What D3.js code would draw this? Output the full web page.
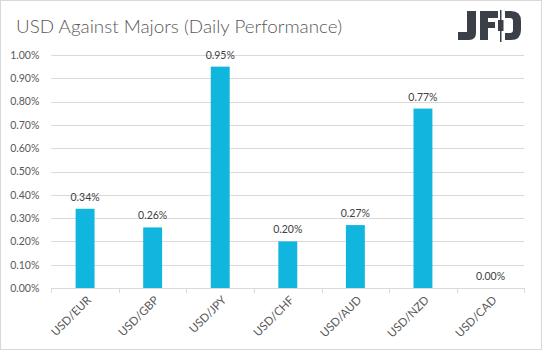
<!DOCTYPE html>
<html>
<head>
<meta charset="utf-8">
<script src="https://cdn.jsdelivr.net/npm/d3@7"></script>
<style>
  body { margin: 0; background: #fff; }
  text { font-family: Lato, "Open Sans", sans-serif; }
</style>
</head>
<body>
<div id="chart"></div>
<script>
const pairs = ["USD/EUR", "USD/GBP", "USD/JPY", "USD/CHF", "USD/AUD", "USD/NZD", "USD/CAD"];
const change = [0.34, 0.26, 0.95, 0.20, 0.27, 0.77, 0.00]; // percent
const yTicks = [0, 0.1, 0.2, 0.3, 0.4, 0.5, 0.6, 0.7, 0.8, 0.9, 1.0];

const W = 543, H = 351;
const plot = { left: 51.3, right: 524.3, top: 55, bottom: 288 };

const svg = d3.select("#chart").append("svg")
    .attr("width", W)
    .attr("height", H);

// border
svg.append("rect")
    .attr("x", 0.5).attr("y", 0.5)
    .attr("width", W - 2).attr("height", H - 2)
    .attr("fill", "#fff")
    .attr("stroke", "#d9d9d9");

// title
svg.append("text")
    .attr("x", 16)
    .attr("y", 33)
    .attr("font-size", 18)
    .attr("font-weight", 300)
    .attr("fill", "#595959")
    .attr("textLength", 326)
    .attr("lengthAdjust", "spacingAndGlyphs")
    .text("USD Against Majors (Daily Performance)");

// logo
const logo = svg.append("g").attr("fill", "#3b4048");
logo.append("path").attr("d", "M467 11 H476 V33 Q476 40 469 40 H458 V32 H467 Z");
logo.append("path").attr("d", "M480 11 H498 V18 H488 V22 H495 V28 H488 V40 H480 Z");
logo.append("rect").attr("x", 500).attr("y", 10).attr("width", 1.5).attr("height", 32);
logo.append("rect").attr("x", 498).attr("y", 20).attr("width", 5.5).attr("height", 11);
logo.append("path").attr("d", "M505 11 H511 Q521 11 521 21 V30 Q521 40 511 40 H505 V33 H510 Q513 33 513 30 V21 Q513 18 510 18 H505 Z");

const x = d3.scaleBand()
    .domain(pairs)
    .range([plot.left, plot.right])
    .paddingInner(0.72)
    .paddingOuter(0.36);

const y = d3.scaleLinear()
    .domain([0, 1])
    .range([plot.bottom, plot.top]);

const fmt = d => d.toFixed(2) + "%";

// gridlines
svg.append("g")
    .selectAll("line")
    .data(yTicks.slice(1))
    .join("line")
    .attr("x1", plot.left)
    .attr("x2", plot.right)
    .attr("y1", d => Math.round(y(d)) + 0.5)
    .attr("y2", d => Math.round(y(d)) + 0.5)
    .attr("stroke", "#d9d9d9");

// y axis labels
const yAxis = svg.append("g")
    .attr("transform", `translate(${plot.left},0)`)
    .call(d3.axisLeft(y).tickValues(yTicks).tickFormat(fmt).tickSize(0).tickPadding(12));
yAxis.select(".domain").remove();
yAxis.selectAll("text")
    .attr("font-size", 10.5)
    .attr("fill", "#595959")
    .style("font-family", "Lato, sans-serif");

// bars
svg.append("g")
    .selectAll("rect")
    .data(pairs)
    .join("rect")
    .attr("x", d => x(d))
    .attr("width", x.bandwidth())
    .attr("y", (d, i) => y(change[i]))
    .attr("height", (d, i) => y(0) - y(change[i]))
    .attr("fill", "#10b6de");

// value labels
svg.append("g")
    .selectAll("text")
    .data(pairs)
    .join("text")
    .attr("x", d => x(d) + x.bandwidth() / 2)
    .attr("y", (d, i) => y(change[i]) - 8)
    .attr("text-anchor", "middle")
    .attr("font-size", 10.5)
    .attr("fill", "#404040")
    .text((d, i) => fmt(change[i]));

// x axis line with category boundary ticks
const step = x.step();
const edges = d3.range(pairs.length + 1).map(i => plot.left + i * step);
svg.append("line")
    .attr("x1", plot.left).attr("x2", plot.right)
    .attr("y1", plot.bottom + 0.5).attr("y2", plot.bottom + 0.5)
    .attr("stroke", "#d9d9d9");
svg.append("g")
    .selectAll("line")
    .data(edges)
    .join("line")
    .attr("x1", d => Math.round(d) + 0.5)
    .attr("x2", d => Math.round(d) + 0.5)
    .attr("y1", plot.bottom)
    .attr("y2", plot.bottom + 5)
    .attr("stroke", "#d9d9d9");

// rotated category labels
svg.append("g")
    .selectAll("text")
    .data(pairs)
    .join("text")
    .attr("transform", d => `translate(${x(d) + x.bandwidth() / 2 + 4},${plot.bottom + 10}) rotate(-45)`)
    .attr("text-anchor", "end")
    .attr("dy", "0.35em")
    .attr("font-size", 11.5)
    .attr("fill", "#595959")
    .text(d => d);
</script>
</body>
</html>
